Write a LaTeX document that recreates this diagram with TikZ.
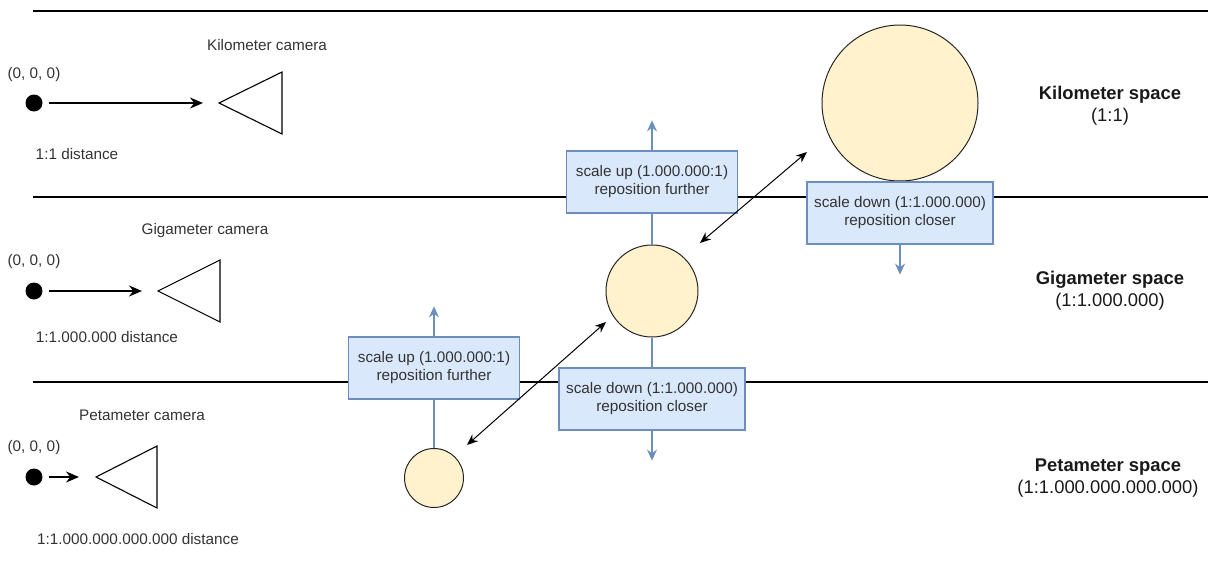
\documentclass[tikz,border=0pt]{standalone}
\usepackage{fontspec}
\setmainfont{Liberation Sans}
\usepackage{tikz}
\usetikzlibrary{arrows.meta}
\usepackage{xcolor}

\definecolor{boxfill}{HTML}{DAE8FC}
\definecolor{boxline}{HTML}{6C8EBF}
\definecolor{planetfill}{HTML}{FFF2CC}
\definecolor{txt}{HTML}{333333}

\tikzset{
  small/.style={font=\fontsize{15.3}{18}\selectfont, text=txt},
  spacelabel/.style={font=\fontsize{18.4}{22}\selectfont, align=center, text=black!90},
  border/.style={line width=1.2pt},
  origin/.style={circle, fill=black, minimum size=17pt, inner sep=0pt},
  camera/.style={line width=1.1pt, line join=miter},
  camarrow/.style={-{Stealth[length=13pt,width=11pt]}, line width=1.2pt, shorten <=6pt},
  planet/.style={circle, draw=black!85, fill=planetfill, line width=1pt, inner sep=0pt},
  scalebox/.style={draw=boxline, fill=boxfill, line width=1.2pt, minimum width=171pt,
    minimum height=62pt, align=center, inner sep=0pt, small},
  blueline/.style={draw=boxline, line width=1.4pt},
  bluearrow/.style={blueline, -{Stealth[length=11pt,width=10pt]}},
  scalearrow/.style={{Stealth[length=11pt,width=9pt]}-{Stealth[length=11pt,width=9pt]}, line width=1pt}
}

\begin{document}
\begin{tikzpicture}[x=1pt,y=-1pt]
  \useasboundingbox (0,0) rectangle (1208,565);

  % space borders
  \draw[border] (33,11) -- (1208,11);
  \draw[border] (33,197) -- (1208,197);
  \draw[border] (33,382) -- (1208,382);

  % kilometer space
  \node[origin] (kmdot) at (34,103) {};
  \node[small] (kmorigin) at (34,75) {(0, 0, 0)};
  \node[small] (kmdist) at (77,154) {1:1 distance};
  \coordinate (kmcam) at (219,103);
  \draw[camera] (kmcam) -- ++(63,-31) -- ++(0,62) -- cycle;
  \node[small] (kmcamlabel) at (267,45) {Kilometer camera};
  \draw[camarrow] (kmdot) -- ([xshift=-16pt]kmcam);
  \node[spacelabel] (kmspace) at (1110,106) {\textbf{Kilometer space}\\(1:1)};

  % gigameter space
  \node[origin] (gmdot) at (34,291) {};
  \node[small] (gmorigin) at (34,262) {(0, 0, 0)};
  \node[small] (gmdist) at (107,337) {1:1.000.000 distance};
  \coordinate (gmcam) at (158,291);
  \draw[camera] (gmcam) -- ++(62,-31) -- ++(0,62) -- cycle;
  \node[small] (gmcamlabel) at (205,231) {Gigameter camera};
  \draw[camarrow] (gmdot) -- ([xshift=-16pt]gmcam);
  \node[spacelabel] (gmspace) at (1110,291) {\textbf{Gigameter space}\\(1:1.000.000)};

  % petameter space
  \node[origin] (pmdot) at (34,477) {};
  \node[small] (pmorigin) at (34,448) {(0, 0, 0)};
  \node[small] (pmdist) at (138,539) {1:1.000.000.000.000 distance};
  \coordinate (pmcam) at (96,477);
  \draw[camera] (pmcam) -- ++(61,-31) -- ++(0,62) -- cycle;
  \node[small] (pmcamlabel) at (142,415) {Petameter camera};
  \draw[camarrow] (pmdot) -- ([xshift=-17pt]pmcam);
  \node[spacelabel] (pmspace) at (1108,478) {\textbf{Petameter space}\\(1:1.000.000.000.000)};

  % objects in each space
  \node[planet, minimum size=156pt] (kmplanet) at (900,103) {};
  \node[planet, minimum size=92pt] (gmplanet) at (652,291) {};
  \node[planet, minimum size=59pt] (pmplanet) at (434,478) {};

  \node[scalebox] (upbox1) at (652,182) {scale up (1.000.000:1)\\reposition further};
  \node[scalebox, minimum width=186pt] (downbox1) at (900,213) {scale down (1:1.000.000)\\reposition closer};
  \node[scalebox] (upbox2) at (434,368) {scale up (1.000.000:1)\\reposition further};
  \node[scalebox, minimum width=186pt] (downbox2) at (652,399) {scale down (1:1.000.000)\\reposition closer};

  \draw[blueline] (upbox1.south) -- (gmplanet.north);
  \draw[bluearrow] (upbox1.north) -- ++(0,-30);
  \draw[bluearrow] (downbox1.south) -- ++(0,30);
  \draw[blueline] (upbox2.south) -- (pmplanet.north);
  \draw[bluearrow] (upbox2.north) -- ++(0,-30);
  \draw[blueline] (gmplanet.south) -- (downbox2.north);
  \draw[bluearrow] (downbox2.south) -- ++(0,30);

  % transitions
  \coordinate (gmnear) at (700,243);
  \coordinate (kmnear) at (807,152);
  \coordinate (pmnear) at (467,445);
  \coordinate (gmlow) at (606,322);
  \draw[scalearrow] (gmnear) -- (kmnear);
  \draw[scalearrow] (pmnear) -- (gmlow);

\end{tikzpicture}
\end{document}
